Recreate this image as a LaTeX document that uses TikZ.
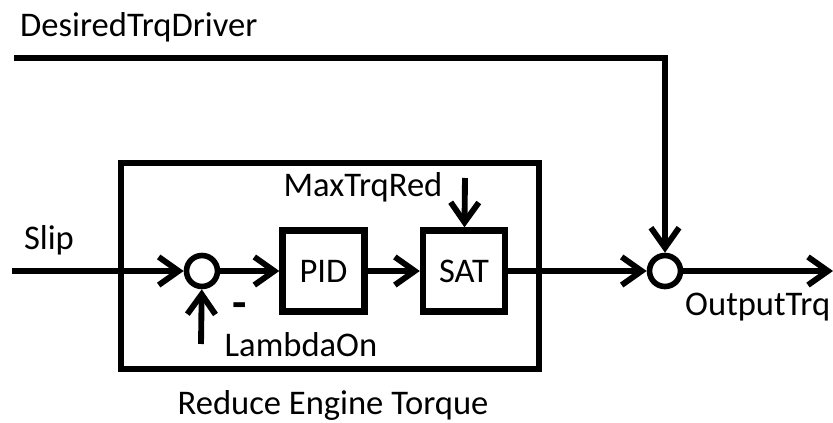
\documentclass[tikz,border=0pt]{standalone}
\usepackage{fontspec}
\setmainfont{Carlito}
\usetikzlibrary{arrows.meta,positioning}
\tikzset{>={Straight Barb[length=17pt,width=24pt]}}
\tikzset{
  sig/.style={line width=5pt,->},
  blk/.style={draw,line width=5.4pt,minimum width=2.46cm,minimum height=2.43cm,inner sep=0pt},
  sumnode/.style={draw,circle,line width=4.8pt,minimum size=0.93cm,inner sep=0pt},
  lbl/.style={font=\fontsize{29.5}{34}\selectfont,inner sep=0pt}
}
\begin{document}
\begin{tikzpicture}[x=0.03cm,y=-0.03cm]
\useasboundingbox (0,0) rectangle (833,423);
% outer subsystem
\node[draw,line width=5.8pt,minimum width=12.54cm,minimum height=6.18cm] (red) at (330,266) {};
\node[lbl] (redlbl) at (333,405) {Reduce Engine Torque};
% blocks
\node[sumnode] (s1) at (202,271) {};
\node[blk,lbl] (pid) at (323.5,271) {PID};
\node[blk,lbl] (sat) at (464,271) {SAT};
\node[sumnode] (s2) at (665,271) {};
% inputs and outputs
\coordinate (slip) at (12,271);
\coordinate (dtd) at (14,58);
\coordinate (mtr) at (465,178);
\coordinate (lam) at (201,344);
\coordinate (outp) at (833,271);
\node[lbl] (sliplbl) at (49,240) {Slip};
\node[lbl,anchor=west] (dtdlbl) at (20,27) {DesiredTrqDriver};
\node[lbl] (mtrlbl) at (363,187) {MaxTrqRed};
\node[lbl] (lamlbl) at (301,345) {LambdaOn};
\node[lbl,anchor=west] (outlbl) at (685,307) {OutputTrq};
\node[lbl,font=\fontsize{40}{40}\selectfont\bfseries] (minus) at (240,311) {-};
\path[sig]
  (slip) edge (s1)
  (lam) edge (s1)
  (s1) edge (pid)
  (pid) edge (sat)
  (mtr) edge (sat)
  (sat) edge (s2)
  (s2) edge (outp);
\draw[sig] (dtd) -| (s2);
\end{tikzpicture}
\end{document}
